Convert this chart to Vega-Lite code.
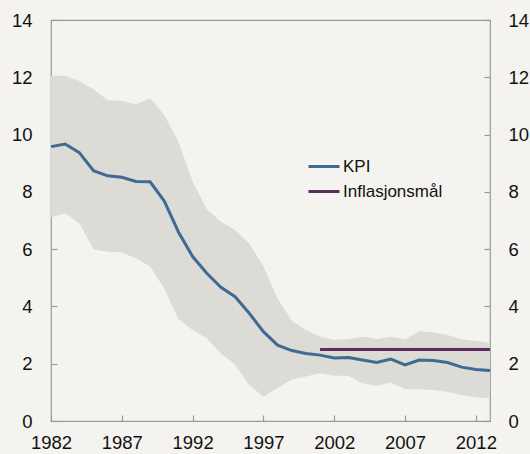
{
  "$schema": "https://vega.github.io/schema/vega-lite/v6.json",
  "width": 439,
  "height": 401,
  "autosize": {"type": "none"},
  "padding": {"left": 51, "top": 20, "right": 40, "bottom": 33},
  "background": "#f4f3ef",
  "config": {
    "view": {"stroke": "#9a9a9a", "strokeWidth": 1.2},
    "font": "Liberation Sans",
    "axis": {
      "labelFont": "Liberation Sans",
      "labelFontSize": 18.5,
      "labelColor": "#111111",
      "domain": false,
      "grid": false,
      "tickColor": "#9a9a9a",
      "tickWidth": 1.2,
      "tickSize": -6,
      "title": null
    },
    "legend": {"labelFont": "Liberation Sans", "labelFontSize": 17, "labelColor": "#111111"}
  },
  "datasets": {
    "band": [
      {"year": 1982, "lower": 7.11, "upper": 12.05},
      {"year": 1983, "lower": 7.25, "upper": 12.05},
      {"year": 1984, "lower": 6.9, "upper": 11.87},
      {"year": 1985, "lower": 6.0, "upper": 11.58},
      {"year": 1986, "lower": 5.91, "upper": 11.2},
      {"year": 1987, "lower": 5.88, "upper": 11.17},
      {"year": 1988, "lower": 5.68, "upper": 11.06},
      {"year": 1989, "lower": 5.39, "upper": 11.27},
      {"year": 1990, "lower": 4.63, "upper": 10.68},
      {"year": 1991, "lower": 3.55, "upper": 9.75},
      {"year": 1992, "lower": 3.18, "upper": 8.36},
      {"year": 1993, "lower": 2.89, "upper": 7.39},
      {"year": 1994, "lower": 2.36, "upper": 6.96},
      {"year": 1995, "lower": 1.96, "upper": 6.67},
      {"year": 1996, "lower": 1.26, "upper": 6.2},
      {"year": 1997, "lower": 0.85, "upper": 5.39},
      {"year": 1998, "lower": 1.15, "upper": 4.28},
      {"year": 1999, "lower": 1.45, "upper": 3.5},
      {"year": 2000, "lower": 1.55, "upper": 3.18},
      {"year": 2001, "lower": 1.67, "upper": 2.94},
      {"year": 2002, "lower": 1.58, "upper": 2.83},
      {"year": 2003, "lower": 1.58, "upper": 2.86},
      {"year": 2004, "lower": 1.32, "upper": 2.94},
      {"year": 2005, "lower": 1.23, "upper": 2.86},
      {"year": 2006, "lower": 1.34, "upper": 2.94},
      {"year": 2007, "lower": 1.11, "upper": 2.85},
      {"year": 2008, "lower": 1.11, "upper": 3.13},
      {"year": 2009, "lower": 1.08, "upper": 3.1},
      {"year": 2010, "lower": 1.02, "upper": 3.0},
      {"year": 2011, "lower": 0.91, "upper": 2.85},
      {"year": 2012, "lower": 0.83, "upper": 2.79},
      {"year": 2013, "lower": 0.79, "upper": 2.73}
    ],
    "lines": [
      {"year": 1982, "series": "KPI", "value": 9.58},
      {"year": 1983, "series": "KPI", "value": 9.67},
      {"year": 1984, "series": "KPI", "value": 9.37},
      {"year": 1985, "series": "KPI", "value": 8.74},
      {"year": 1986, "series": "KPI", "value": 8.56},
      {"year": 1987, "series": "KPI", "value": 8.51},
      {"year": 1988, "series": "KPI", "value": 8.36},
      {"year": 1989, "series": "KPI", "value": 8.35},
      {"year": 1990, "series": "KPI", "value": 7.68},
      {"year": 1991, "series": "KPI", "value": 6.6},
      {"year": 1992, "series": "KPI", "value": 5.74},
      {"year": 1993, "series": "KPI", "value": 5.16},
      {"year": 1994, "series": "KPI", "value": 4.67},
      {"year": 1995, "series": "KPI", "value": 4.34},
      {"year": 1996, "series": "KPI", "value": 3.76},
      {"year": 1997, "series": "KPI", "value": 3.12},
      {"year": 1998, "series": "KPI", "value": 2.65},
      {"year": 1999, "series": "KPI", "value": 2.46},
      {"year": 2000, "series": "KPI", "value": 2.36},
      {"year": 2001, "series": "KPI", "value": 2.3},
      {"year": 2002, "series": "KPI", "value": 2.2},
      {"year": 2003, "series": "KPI", "value": 2.22},
      {"year": 2004, "series": "KPI", "value": 2.13},
      {"year": 2005, "series": "KPI", "value": 2.04},
      {"year": 2006, "series": "KPI", "value": 2.16},
      {"year": 2007, "series": "KPI", "value": 1.96},
      {"year": 2008, "series": "KPI", "value": 2.13},
      {"year": 2009, "series": "KPI", "value": 2.11},
      {"year": 2010, "series": "KPI", "value": 2.04},
      {"year": 2011, "series": "KPI", "value": 1.88},
      {"year": 2012, "series": "KPI", "value": 1.8},
      {"year": 2013, "series": "KPI", "value": 1.76},
      {"year": 2001, "series": "Inflasjonsmål", "value": 2.5},
      {"year": 2002, "series": "Inflasjonsmål", "value": 2.5},
      {"year": 2003, "series": "Inflasjonsmål", "value": 2.5},
      {"year": 2004, "series": "Inflasjonsmål", "value": 2.5},
      {"year": 2005, "series": "Inflasjonsmål", "value": 2.5},
      {"year": 2006, "series": "Inflasjonsmål", "value": 2.5},
      {"year": 2007, "series": "Inflasjonsmål", "value": 2.5},
      {"year": 2008, "series": "Inflasjonsmål", "value": 2.5},
      {"year": 2009, "series": "Inflasjonsmål", "value": 2.5},
      {"year": 2010, "series": "Inflasjonsmål", "value": 2.5},
      {"year": 2011, "series": "Inflasjonsmål", "value": 2.5},
      {"year": 2012, "series": "Inflasjonsmål", "value": 2.5},
      {"year": 2013, "series": "Inflasjonsmål", "value": 2.5}
    ]
  },
  "resolve": {"axis": {"y": "independent"}},
  "layer": [
    {
      "data": {"name": "band"},
      "mark": {"type": "area", "color": "#dcdbd6", "opacity": 1},
      "encoding": {
        "x": {"field": "year", "type": "quantitative",
          "scale": {"domain": [1982, 2013], "nice": false, "zero": false},
          "axis": {"values": [1982, 1987, 1992, 1997, 2002, 2007, 2012], "format": "d", "labelPadding": 18.5, "labelFlush": false}},
        "y": {"field": "lower", "type": "quantitative",
          "scale": {"domain": [0, 14], "nice": false},
          "axis": {"orient": "left", "values": [0, 2, 4, 6, 8, 10, 12, 14], "labelPadding": 25}},
        "y2": {"field": "upper"}
      }
    },
    {
      "data": {"name": "lines"},
      "mark": {"type": "line", "strokeWidth": 3, "strokeCap": "butt"},
      "encoding": {
        "x": {"field": "year", "type": "quantitative"},
        "y": {"field": "value", "type": "quantitative",
          "axis": {"orient": "right", "values": [0, 2, 4, 6, 8, 10, 12, 14], "labelPadding": 24}},
        "color": {"field": "series", "type": "nominal",
          "scale": {"domain": ["KPI", "Inflasjonsmål"], "range": ["#3f6a93", "#5b2d5f"]},
          "legend": {"title": null, "orient": "none", "legendX": 256, "legendY": 129.5,
            "symbolType": "stroke", "symbolSize": 961, "symbolStrokeWidth": 3,
            "labelOffset": 2, "rowPadding": -3, "padding": 0}}
      }
    }
  ]
}
